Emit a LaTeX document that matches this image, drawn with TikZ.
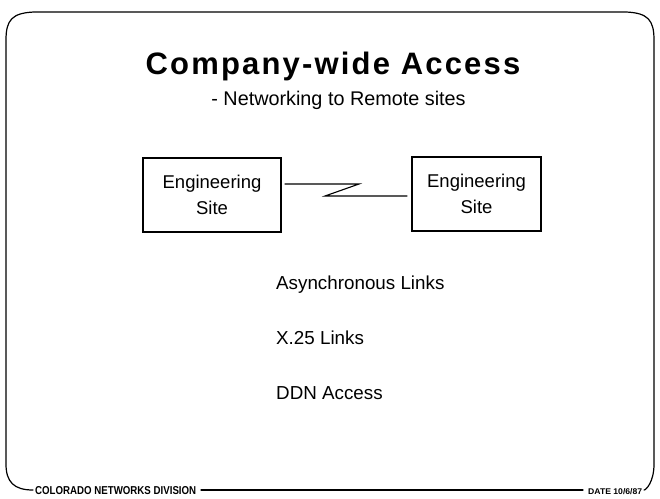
\documentclass[tikz,border=0pt]{standalone}
\usepackage{fontspec}
\setmainfont{Liberation Sans}
\newfontfamily\titlefont[LetterSpace=7]{Liberation Sans}
\usetikzlibrary{calc}
\begin{document}
\begin{tikzpicture}[x=1pt,y=-1pt,
  frame/.style={line width=1.2pt,line cap=round},
  sitebox/.style={draw,line width=1.2pt,minimum height=74pt,align=center,
    font=\fontsize{18.5}{26}\selectfont,inner sep=0pt},
  link/.style={line width=1.1pt},
  item/.style={anchor=base west,font=\fontsize{18.8}{22}\selectfont,inner sep=0pt},
  foot/.style={anchor=base west,inner sep=0pt}]
\useasboundingbox (0,0) rectangle (660,498);
% frame
\draw[frame] (33,490) .. controls (14,490) and (6,482) .. (6,464)
  -- (6,40) .. controls (6,20) and (12,13) .. (34,12) -- (626,12)
  .. controls (648,13) and (654,20) .. (654,40) -- (654,464)
  .. controls (654,482) and (646,490) .. (644,490);
\draw[frame] (201,490) -- (583,490);
% titles
\node[inner sep=0pt] (title) at (333,66) {\titlefont\fontsize{31}{36}\selectfont\bfseries Company-wide Access};
\node[inner sep=0pt] (sub) at (338.5,100) {\fontsize{19.8}{22}\selectfont - Networking to Remote sites};
% boxes
\node[sitebox,minimum width=138pt] (L) at (212,195) {Engineering\\Site};
\node[sitebox,minimum width=129pt] (R) at (476.5,194) {Engineering\\Site};
\coordinate (z1) at (359,184);
\coordinate (z2) at (325,196);
\draw[link] ($(L.east)+(3,-11)$) -- (z1) -- (z2) -- ($(R.west |- z2)+(-4,0)$);
% items
\node[item] (a1) at (276,289) {Asynchronous Links};
\node[item] (a2) at (276,344) {X.25 Links};
\node[item] (a3) at (276,399) {DDN Access};
% footer
\node[foot] (f1) at (35,494) {\resizebox{161pt}{8pt}{\bfseries COLORADO NETWORKS DIVISION}};
\node[foot] (f2) at (588,494) {\resizebox{54pt}{6pt}{\bfseries DATE 10/6/87}};
\end{tikzpicture}
\end{document}
